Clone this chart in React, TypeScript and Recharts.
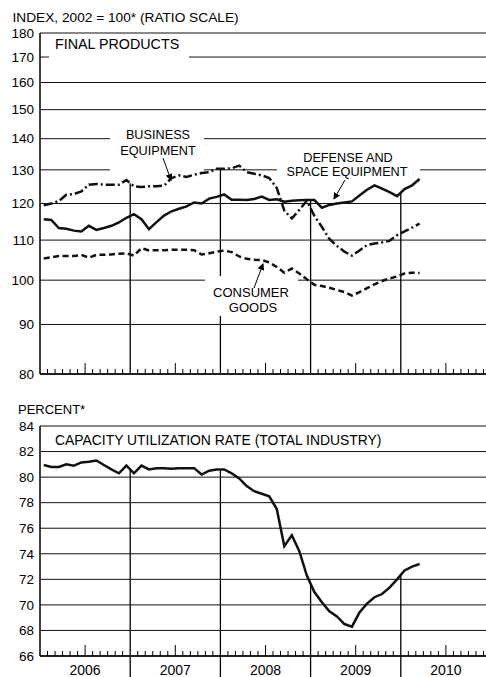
import React from 'react';
import { LineChart, Line, XAxis, YAxis, CartesianGrid, ReferenceLine } from 'recharts';

const FONT = "'Liberation Sans', Arial, sans-serif";

const years = ['2006', '2007', '2008', '2009', '2010'];

// Monthly values, Jan 2006 – Mar 2010
const businessEquipment = [
  119.5, 120.0, 120.7, 122.5, 122.7, 123.5, 125.5, 125.7, 125.5, 125.5,
  125.5, 126.9, 125.0, 124.8, 125.0, 125.0, 125.2, 127.5, 128.3, 127.8,
  128.5, 129.0, 129.3, 130.3, 130.3, 130.5, 131.3, 129.3, 128.8, 128.3,
  127.5, 124.5, 118.0, 115.8, 118.2, 120.8, 116.5, 113.5, 110.3, 108.5,
  107.0, 106.0, 107.3, 108.7, 109.1, 109.4, 109.8, 111.3, 112.3, 113.3, 114.4,
];
const defenseSpace = [
  115.6, 115.4, 113.2, 113.0, 112.5, 112.3, 113.8, 112.7, 113.2, 113.8,
  114.7, 116.0, 117.0, 115.6, 112.9, 114.8, 116.6, 117.8, 118.5, 119.2,
  120.3, 120.0, 121.4, 121.9, 122.6, 121.1, 121.1, 121.0, 121.3, 122.0,
  121.0, 121.2, 120.5, 120.8, 120.9, 121.0, 121.0, 118.8, 119.6, 120.0,
  120.3, 120.6, 122.3, 124.0, 125.3, 124.3, 123.3, 122.1, 124.2, 125.3, 127.2,
];
const consumerGoods = [
  105.3, 105.6, 105.9, 105.9, 105.9, 106.2, 105.5, 106.2, 106.2, 106.3,
  106.5, 106.6, 106.0, 107.9, 107.3, 107.4, 107.4, 107.5, 107.5, 107.5,
  107.4, 106.3, 106.6, 107.0, 107.3, 106.9, 105.8, 105.2, 105.0, 104.9,
  104.3, 103.2, 101.8, 102.8, 101.6, 100.2, 98.9, 98.6, 98.2, 97.7,
  97.2, 96.4, 97.2, 98.1, 99.0, 99.8, 100.4, 100.9, 101.6, 101.8, 101.7,
];
const capacityUtilization = [
  80.95, 80.8, 80.8, 81.0, 80.9, 81.15, 81.2, 81.3, 80.95, 80.6,
  80.3, 80.9, 80.3, 80.9, 80.6, 80.7, 80.7, 80.65, 80.7, 80.7,
  80.7, 80.2, 80.5, 80.6, 80.6, 80.3, 79.9, 79.3, 78.9, 78.7,
  78.5, 77.5, 74.6, 75.45, 74.2, 72.3, 71.0, 70.2, 69.5, 69.1,
  68.5, 68.3, 69.4, 70.1, 70.6, 70.85, 71.35, 72.0, 72.7, 73.0, 73.2,
];

const indexTicks = [80, 90, 100, 110, 120, 130, 140, 150, 160, 170, 180];
const percentTicks = [66, 68, 70, 72, 74, 76, 78, 80, 82, 84];
const monthTicks = Array.from({ length: 59 }, (_, i) => i + 1);
const yearBoundaries = [12, 24, 36, 48];

const topData = businessEquipment.map((v, i) => ({
  m: i + 0.5,
  bus: v,
  def: defenseSpace[i],
  con: consumerGoods[i],
}));
const bottomData = capacityUtilization.map((v, i) => ({ m: i + 0.5, cap: v }));

const dividerTop = (series: number[][], b: number) =>
  Math.max(...series.map((s) => (s[b - 1] + s[b]) / 2));

const makeTick = (withYears: boolean) => (props: any) => {
  const { x, y, payload } = props;
  const v = payload.value;
  if (v % 12 === 0) {
    return withYears ? (
      <line x1={x} x2={x} y1={y} y2={y + 22} stroke="#000" strokeWidth={1.3} />
    ) : (
      <g />
    );
  }
  const long = v % 12 === 6;
  return (
    <g>
      <line x1={x} x2={x} y1={y} y2={y - (long ? 11 : 5)} stroke="#000" strokeWidth={1} />
      {withYears && long && (
        <text x={x} y={y + 18.5} textAnchor="middle" fontSize={14} fontFamily={FONT} fill="#000">
          {years[Math.floor(v / 12)]}
        </text>
      )}
    </g>
  );
};

const yTick = { fill: '#000', fontSize: 13.5, fontFamily: FONT };

export default function App() {
  const topSeries = [businessEquipment, defenseSpace, consumerGoods];
  return (
    <div
      style={{
        position: 'absolute',
        left: 0,
        top: 0,
        width: 486,
        height: 677,
        overflow: 'hidden',
        background: '#fff',
      }}
    >
      <div style={{ position: 'absolute', left: 0, top: 0 }}>
        <LineChart width={491} height={392} data={topData} margin={{ top: 33, right: 0, bottom: 17, left: 0 }}>
          <CartesianGrid vertical={false} stroke="#111" strokeWidth={1} />
          <XAxis
            dataKey="m"
            type="number"
            domain={[0, 60]}
            ticks={monthTicks}
            interval={0}
            height={1}
            tickSize={0}
            tickMargin={0}
            tickLine={false}
            tick={makeTick(false)}
            axisLine={{ stroke: '#000', strokeWidth: 1.5 }}
          />
          <YAxis
            type="number"
            scale="log"
            domain={[80, 180]}
            ticks={indexTicks}
            interval={0}
            allowDataOverflow
            width={40}
            tickSize={0}
            tickMargin={6}
            tickLine={false}
            tick={yTick}
            axisLine={{ stroke: '#000', strokeWidth: 1.5 }}
          />
          {yearBoundaries.map((b) => (
            <ReferenceLine
              key={b}
              segment={[
                { x: b, y: 80 },
                { x: b, y: dividerTop(topSeries, b) },
              ]}
              stroke="#000"
              strokeWidth={1.3}
            />
          ))}
          <Line dataKey="con" stroke="#111" strokeWidth={2.5} strokeDasharray="6 3.5" dot={false} type="linear" isAnimationActive={false} />
          <Line dataKey="def" stroke="#111" strokeWidth={2.5} dot={false} type="linear" isAnimationActive={false} />
          <Line dataKey="bus" stroke="#111" strokeWidth={2.5} strokeDasharray="9 3 2 3" dot={false} type="linear" isAnimationActive={false} />
        </LineChart>
      </div>
      <div style={{ position: 'absolute', left: 0, top: 400 }}>
        <LineChart width={491} height={277} data={bottomData} margin={{ top: 26, right: 0, bottom: 0, left: 0 }}>
          <CartesianGrid vertical={false} stroke="#111" strokeWidth={1} />
          <XAxis
            dataKey="m"
            type="number"
            domain={[0, 60]}
            ticks={monthTicks}
            interval={0}
            height={21}
            tickSize={0}
            tickMargin={0}
            tickLine={false}
            tick={makeTick(true)}
            axisLine={{ stroke: '#000', strokeWidth: 1.5 }}
          />
          <YAxis
            type="number"
            domain={[66, 84]}
            ticks={percentTicks}
            interval={0}
            allowDataOverflow
            width={40}
            tickSize={0}
            tickMargin={6}
            tickLine={false}
            tick={yTick}
            axisLine={{ stroke: '#000', strokeWidth: 1.5 }}
          />
          {yearBoundaries.map((b) => (
            <ReferenceLine
              key={b}
              segment={[
                { x: b, y: 66 },
                { x: b, y: dividerTop([capacityUtilization], b) },
              ]}
              stroke="#000"
              strokeWidth={1.3}
            />
          ))}
          <Line dataKey="cap" stroke="#111" strokeWidth={2.5} dot={false} type="linear" isAnimationActive={false} />
        </LineChart>
      </div>
      <svg
        width={486}
        height={677}
        style={{ position: 'absolute', left: 0, top: 0, pointerEvents: 'none' }}
        fontFamily={FONT}
        fill="#000"
      >
        <defs>
          <marker id="ah" markerWidth="7" markerHeight="7" refX="6" refY="3.5" orient="auto" markerUnits="userSpaceOnUse">
            <path d="M0,0 L7,3.5 L0,7 z" fill="#000" />
          </marker>
        </defs>
        <text x={12.5} y={21.7} fontSize={13.7}>INDEX, 2002 = 100* (RATIO SCALE)</text>

        <rect x={49} y={36} width={140} height={24} fill="#fff" />
        <text x={55} y={48.7} fontSize={14.3}>FINAL PRODUCTS</text>

        <rect x={110} y={127} width={94} height={44} fill="#fff" />
        <text x={158} y={139} fontSize={12.7} textAnchor="middle">BUSINESS</text>
        <text x={158} y={154.6} fontSize={12.7} textAnchor="middle">EQUIPMENT</text>
        <line x1={163} y1={158} x2={171} y2={180} stroke="#000" strokeWidth={1} markerEnd="url(#ah)" />

        <rect x={277} y={163} width={143} height={12} fill="#fff" />
        <text x={348} y={161.5} fontSize={12.7} textAnchor="middle">DEFENSE AND</text>
        <text x={347} y={176} fontSize={12.7} textAnchor="middle">SPACE EQUIPMENT</text>
        <line x1={345} y1={180} x2={334} y2={199} stroke="#000" strokeWidth={1} markerEnd="url(#ah)" />

        <rect x={205} y={276} width={93} height={40} fill="#fff" />
        <text x={251} y={296.5} fontSize={13} textAnchor="middle">CONSUMER</text>
        <text x={253} y={312} fontSize={13} textAnchor="middle">GOODS</text>
        <line x1={254} y1={288} x2={263} y2={264} stroke="#000" strokeWidth={1} markerEnd="url(#ah)" />

        <text x={18} y={413.5} fontSize={13}>PERCENT*</text>
        <text x={55} y={444.6} fontSize={13.9}>CAPACITY UTILIZATION RATE (TOTAL INDUSTRY)</text>
      </svg>
    </div>
  );
}
